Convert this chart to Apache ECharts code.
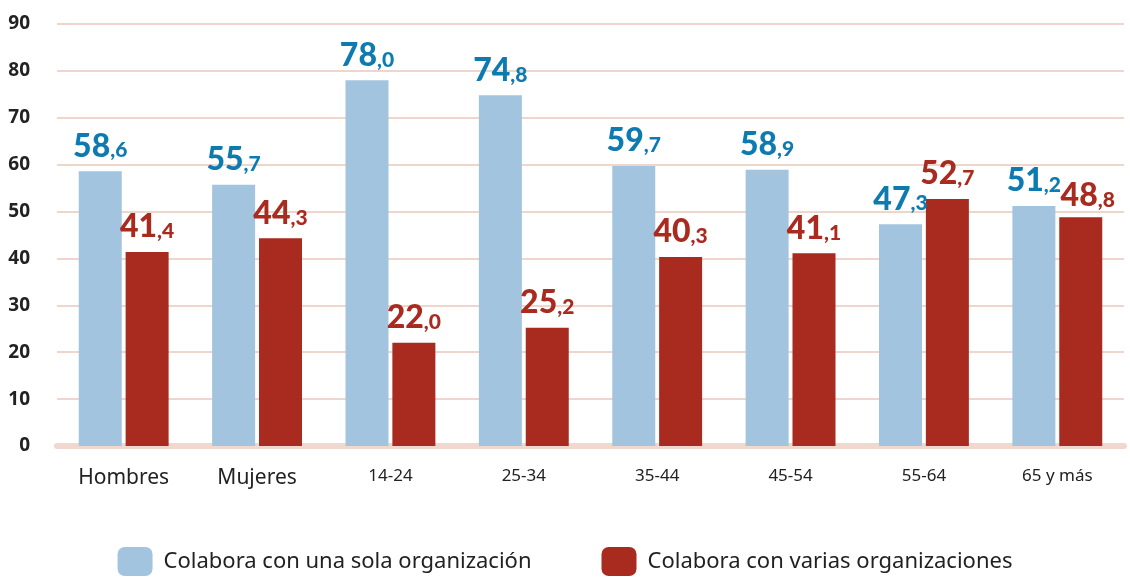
<!DOCTYPE html>
<html>
<head>
<meta charset="utf-8">
<script src="https://cdn.jsdelivr.net/npm/echarts@6/dist/echarts.min.js"></script>
<style>
  html, body { margin: 0; padding: 0; background: #fff; }
  #chart { width: 1130px; height: 581px; }
</style>
</head>
<body>
<div id="chart"></div>
<script>
// categorias y valores
var categorias = ['Hombres', 'Mujeres', '14-24', '25-34', '35-44', '45-54', '55-64', '65 y más'];
var unaSola = [58.6, 55.7, 78.0, 74.8, 59.7, 58.9, 47.3, 51.2];
var varias = [41.4, 44.3, 22.0, 25.2, 40.3, 41.1, 52.7, 48.8];
var nombres = ['Colabora con una sola organización', 'Colabora con varias organizaciones'];

var fuenteTexto = '"Noto Sans", sans-serif';
var fuenteDatos = 'Lato, "Open Sans", sans-serif';

// etiqueta con la parte entera grande y el decimal pequeño
var etiquetaValor = function(p){
    var partes = p.value.toFixed(1).split('.');
    return '{e|' + partes[0] + '}{d|,' + partes[1] + '}';
};
var estiloEtiqueta = function(color){
    return {
        show: true,
        position: 'top',
        distance: 9,
        formatter: etiquetaValor,
        rich: {
            e: { fontFamily: fuenteDatos, fontWeight: 900, fontSize: 32, color: color },
            d: { fontFamily: fuenteDatos, fontWeight: 900, fontSize: 21, color: color, padding: [9, 0, 0, 0] }
        }
    };
};

// la ultima etiqueta roja va un poco desplazada, como en el original
var datosVarias = varias.map(function(v, i){
    if (i == varias.length - 1){
        return { value: v, label: { offset: [7, 4] } };
    }
    return v;
});

var chart = echarts.init(document.getElementById('chart'));
chart.setOption({
    animation: false,
    grid: { left: 57, width: 1067, top: 24, height: 422 },
    legend: {
        bottom: 0,
        left: 'center',
        itemWidth: 35,
        itemHeight: 29,
        itemGap: 70,
        icon: 'roundRect',
        textStyle: { fontFamily: fuenteTexto, fontSize: 22, color: '#222', padding: [0, 0, 0, 6] },
        data: nombres
    },
    xAxis: {
        type: 'category',
        data: categorias,
        axisTick: { show: false },
        axisLine: { show: true, lineStyle: { color: '#f1d8ce', width: 6 } },
        axisLabel: {
            margin: 22,
            formatter: function(v, i){ return i < 2 ? '{g|' + v + '}' : '{p|' + v + '}'; },
            rich: {
                g: { fontFamily: fuenteTexto, fontSize: 21, color: '#222' },
                p: { fontFamily: fuenteTexto, fontSize: 17, color: '#222' }
            }
        }
    },
    yAxis: {
        type: 'value',
        min: 0,
        max: 90,
        interval: 10,
        axisLine: { show: false },
        axisTick: { show: false },
        axisLabel: { margin: 27, fontFamily: fuenteTexto, fontSize: 19, fontWeight: 'bold', color: '#222' },
        splitLine: { lineStyle: { color: '#efd6cc', width: 2 } }
    },
    series: [
        {
            name: nombres[0],
            type: 'bar',
            data: unaSola,
            barWidth: 43,
            barGap: '9%',
            itemStyle: { color: '#a3c4de' },
            label: estiloEtiqueta('#0e7bb0')
        },
        {
            name: nombres[1],
            type: 'bar',
            data: datosVarias,
            barWidth: 43,
            barGap: '9%',
            itemStyle: { color: '#a92a1f' },
            label: estiloEtiqueta('#a92a1f')
        }
    ]
});
</script>
</body>
</html>
